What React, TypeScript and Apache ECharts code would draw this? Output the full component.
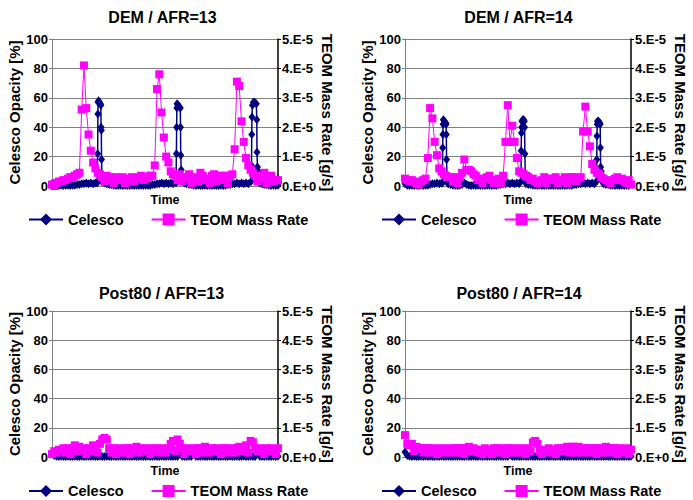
import React, { useEffect, useRef } from "react";
import * as echarts from "echarts";

// ---- data ----
const panelTitles = ["DEM / AFR=13", "DEM / AFR=14", "Post80 / AFR=13", "Post80 / AFR=14"];
const rightTicks = ["0.E+0", "1.E-5", "2.E-5", "3.E-5", "4.E-5", "5.E-5"];

const seq = (a: number, b: number) => Array.from({ length: b - a + 1 }, (_, k) => a + k);

// Celesco opacity [%] with sample times (time units)
const dem13CelescoTime = [
  ...seq(0, 19),
  19.8, 20, 20.1, 20.2, 20.4, 20.8, 21.2, 21.4, 21.5, 21.6, 21.7, 21.9,
  ...seq(23, 53),
  54.3, 54.5, 54.6, 54.7, 54.8, 55.2, 55.8, 56.2, 56.3, 56.4, 56.6, 56.9,
  ...seq(58, 86),
  87.2, 87.4, 87.5, 87.6, 87.8, 88.2, 88.8, 89.5, 89.7, 89.8, 90, 90.3, 90.6,
  ...seq(91, 99),
];
const dem13Celesco = [
  1.5, 0.5, 0.5, 0.3, 0.5, 0.3, 0.5, 0.5, 0.3, 0.5, 0.5, 1, 1, 1.5, 1.5, 2, 1.5, 2, 1.5, 2,
  2, 22, 49, 57, 58, 57, 56, 55, 40, 38, 18, 3,
  2, 1.5, 1, 1, 0.5, 0.3, 0.3, 0.5, 0.3, 0.5, 0.3, 0.3, 0.5, 0.3, 0.5, 0.3, 0.5, 0.3, 0.5, 0.5, 0.3, 1, 1, 1.5, 1.5, 2, 1.5, 2, 1.5, 2, 1.5,
  2, 22, 40, 53, 56, 55, 54, 53, 40, 21, 11, 3,
  2, 1.5, 1, 1, 0.5, 0.3, 0.5, 0.3, 0.3, 0.5, 0.3, 0.5, 0.3, 0.5, 0.3, 0.3, 0.5, 0.3, 0.5, 1, 1, 1.5, 1.5, 2, 1.5, 2, 1.5, 2, 1.5,
  3, 14, 35, 47, 55, 57, 57, 56, 45, 23, 13, 10, 3,
  2, 1.5, 1, 1, 0.5, 0.3, 0.5, 0.3, 0.5,
];

const dem14CelescoTime = [
  ...seq(0, 16),
  16.4, 16.5, 16.6, 16.7, 16.8, 17.3, 17.8, 18.0, 18.1, 18.2, 18.4, 18.6,
  ...seq(19, 50),
  50.8, 50.9, 51.0, 51.1, 51.2, 51.6, 52.0, 52.3, 52.4, 52.5, 52.7, 52.9,
  ...seq(53, 83),
  83.9, 84.0, 84.1, 84.2, 84.3, 84.8, 85.3, 85.5, 85.6, 85.7, 86.0, 86.3,
  ...seq(87, 99),
];
const dem14Celesco = [
  1.5, 0.5, 0.3, 0.5, 0.3, 0.5, 0.3, 0.5, 0.3, 0.5, 0.5, 1, 1.5, 1.5, 2, 1.5, 2,
  2, 26, 35, 42, 45, 44, 43, 42, 35, 18, 5, 2,
  1.5, 1, 0.5, 0.5, 0.3, 0.5, 1, 2, 1, 0.5, 0.3, 0.5, 0.3, 0.5, 0.3, 0.5, 0.3, 0.5, 0.5, 0.3, 0.5, 0.3, 1, 1, 1.5, 1.5, 2, 1.5, 2, 1.5, 2, 1.5,
  3, 24, 36, 40, 44, 45, 45, 44, 40, 22, 8, 3,
  1.5, 1, 1, 0.5, 0.5, 0.3, 0.5, 0.3, 0.3, 0.5, 0.3, 0.5, 0.3, 0.5, 0.3, 0.3, 0.5, 0.3, 0.5, 0.5, 0.3, 1, 1, 1.5, 1.5, 2, 1.5, 2, 1.5, 2, 1.5,
  3, 18, 34, 42, 44, 44, 43, 42, 26, 13, 10, 3,
  1.5, 1, 1, 0.5, 0.5, 0.3, 0.5, 0.3, 0.5, 0.3, 0.5, 0.3, 1.5,
];

// Post80 Celesco opacity [%], one sample per time unit
const post13Celesco = [
  2.5, 1, 0.5, 0.3, 0.5, 0.3, 0.3, 0.5, 0.3, 0.3, 0.5, 0.3, 0.3, 0.5, 0.3, 0.3, 0.5, 0.3, 0.5, 0.3,
  0.3, 0.5, 0.3, 0.3, 0.5, 0.3, 0.3, 0.5, 0.3, 0.3, 0.5, 0.3, 0.3, 0.5, 0.3, 0.3, 0.5, 0.3, 0.3, 0.5,
  0.3, 0.3, 0.5, 0.3, 0.3, 0.5, 0.3, 0.3, 0.5, 0.3, 0.3, 0.5, 0.3, 0.3, 0.5, 0.3, 3.5, 0.5, 0.3, 0.3,
  0.5, 0.3, 2.5, 0.5, 0.3, 0.3, 0.5, 0.3, 0.3, 0.5, 0.3, 0.3, 0.5, 0.3, 0.3, 0.5, 0.3, 0.3, 0.5, 0.3,
  0.3, 0.5, 0.3, 0.3, 0.5, 0.3, 0.3, 0.5, 0.3, 0.3, 3, 0.5, 0.3, 0.3, 0.5, 0.3, 0.3, 0.5, 0.3, 0.5,
];
const post14Celesco = [
  3.5, 1, 0.5, 0.3, 0.5, 0.3, 0.3, 0.5, 0.3, 0.5, 0.3, 0.5, 0.3, 0.3, 0.5, 0.3, 0.5, 0.3, 0.3, 0.5,
  0.3, 0.3, 0.5, 0.3, 0.5, 0.3, 0.3, 0.5, 0.3, 0.3, 0.5, 0.3, 0.3, 0.5, 0.3, 0.5, 0.3, 0.3, 0.5, 0.3,
  0.3, 0.5, 0.3, 0.3, 0.5, 0.3, 1.5, 0.3, 0.3, 0.5, 0.3, 0.3, 0.5, 0.3, 0.3, 0.5, 0.3, 0.3, 0.5, 0.3,
  0.3, 0.5, 0.3, 0.3, 0.5, 0.3, 0.3, 0.5, 0.3, 0.3, 0.5, 0.3, 0.3, 0.5, 0.3, 0.3, 0.5, 0.3, 0.3, 0.5,
  0.3, 0.3, 0.5, 0.3, 0.3, 0.5, 0.3, 0.3, 0.5, 0.3, 0.3, 0.5, 0.3, 0.3, 0.5, 0.3, 0.3, 0.5, 0.3, 0.5,
];

// TEOM mass rate, in units of 1e-5 g/s, one sample per time unit
const dem13Teom = [
  0.05, 0, 0.1, 0.15, 0.15, 0.2, 0.2, 0.25, 0.3, 0.3,
  0.35, 0.4, 0.45, 2.6, 4.1, 2.65, 1.75, 1.2, 0.8, 0.6,
  0.45, 0.4, 0.3, 0.15, 0.35, 0.2, 0.3, 0.1, 0.3, 0.2,
  0.25, 0.3, 0.1, 0.2, 0.25, 0.3, 0.15, 0.25, 0.3, 0.35,
  0.2, 0.25, 0.3, 0.35, 0.35, 0.7, 3.3, 3.8, 2.5, 1.65,
  1.0, 0.8, 0.5, 0.4, 0.35, 0.2, 0.4, 0.15, 0.25, 0.3,
  0.4, 0.1, 0.3, 0.25, 0.15, 0.45, 0.35, 0.2, 0.25, 0.1,
  0.35, 0.4, 0.15, 0.3, 0.35, 0.2, 0.35, 0.1, 0.35, 0.4,
  1.25, 3.55, 3.4, 2.2, 1.5, 0.95, 0.7, 0.55, 0.45, 0.35,
  0.15, 0.25, 0.35, 0.45, 0.1, 0.25, 0.35, 0.15, 0.2, 0.2,
];
const dem14Teom = [
  0.25, 0.2, 0.15, 0.2, 0.15, 0.1, 0.05, 0.15, 0.2, 0.25,
  0.95, 2.65, 2.3, 1.5, 1.05, 0.6, 0.5, 0.4, 0.35, 0.3,
  0.3, 0.15, 0.3, 0.1, 0.3, 0.45, 0.9, 0.55, 0.55, 0.5,
  0.4, 0.35, 0.2, 0.25, 0.1, 0.25, 0.3, 0.35, 0.2, 0.1,
  0.2, 0.25, 0.1, 0.35, 1.5, 2.75, 1.5, 2.05, 1.5, 0.95,
  0.5, 0.45, 0.4, 0.35, 0.3, 0.2, 0.25, 0.15, 0.1, 0.15,
  0.2, 0.3, 0.1, 0.25, 0.2, 0.25, 0.3, 0.1, 0.2, 0.15,
  0.3, 0.1, 0.25, 0.3, 0.3, 0.15, 0.25, 0.3, 1.85, 2.7,
  1.85, 1.35, 0.75, 0.55, 0.45, 0.4, 0.3, 0.25, 0.2, 0.15,
  0.1, 0.2, 0.25, 0.3, 0.2, 0.25, 0.15, 0.1, 0.2, 0.05,
];
const post13Teom = [
  0.1, 0.2, 0.15, 0.25, 0.2, 0.3, 0.15, 0.3, 0.1, 0.3,
  0.4, 0.2, 0.35, 0.25, 0.3, 0.1, 0.3, 0.2, 0.4, 0.3,
  0.15, 0.45, 0.6, 0.65, 0.6, 0.3, 0.15, 0.3, 0.1, 0.3,
  0.25, 0.15, 0.3, 0.3, 0.1, 0.3, 0.2, 0.35, 0.15, 0.3,
  0.2, 0.3, 0.25, 0.1, 0.3, 0.2, 0.3, 0.15, 0.3, 0.25,
  0.15, 0.3, 0.45, 0.55, 0.2, 0.6, 0.45, 0.3, 0.1, 0.3,
  0.2, 0.25, 0.3, 0.1, 0.3, 0.3, 0.15, 0.35, 0.3, 0.15,
  0.3, 0.2, 0.3, 0.2, 0.1, 0.3, 0.3, 0.15, 0.25, 0.3,
  0.15, 0.3, 0.35, 0.2, 0.3, 0.4, 0.15, 0.55, 0.5, 0.3,
  0.2, 0.3, 0.25, 0.1, 0.3, 0.2, 0.3, 0.25, 0.1, 0.3,
];
const post14Teom = [
  0.75, 0.45, 0.4, 0.45, 0.2, 0.35, 0.3, 0.3, 0.15, 0.3,
  0.3, 0.15, 0.3, 0.25, 0.1, 0.3, 0.2, 0.15, 0.3, 0.25,
  0.15, 0.3, 0.3, 0.15, 0.3, 0.3, 0.1, 0.3, 0.35, 0.2,
  0.3, 0.25, 0.15, 0.25, 0.1, 0.3, 0.2, 0.25, 0.1, 0.3,
  0.3, 0.15, 0.3, 0.25, 0.1, 0.3, 0.3, 0.15, 0.3, 0.2,
  0.15, 0.3, 0.25, 0.1, 0.3, 0.2, 0.5, 0.55, 0.45, 0.2,
  0.1, 0.25, 0.2, 0.3, 0.15, 0.25, 0.1, 0.3, 0.3, 0.2,
  0.3, 0.35, 0.15, 0.35, 0.35, 0.15, 0.35, 0.3, 0.15, 0.3,
  0.3, 0.15, 0.3, 0.3, 0.1, 0.3, 0.3, 0.15, 0.35, 0.3,
  0.15, 0.3, 0.3, 0.1, 0.3, 0.25, 0.15, 0.3, 0.1, 0.25,
];

const FONT = "'Liberation Sans', Arial, sans-serif";
const NAVY = "#000080";
const MAGENTA = "#FF00FF";

export default function App() {
  const ref = useRef<HTMLDivElement>(null);
  useEffect(() => {
    if (!ref.current) return;
    const chart = echarts.init(ref.current, null, { renderer: "svg" });

    const grids = [
      { left: 52, top: 39, width: 226, height: 147 },
      { left: 405, top: 39, width: 226, height: 147 },
      { left: 52, top: 311, width: 226, height: 146 },
      { left: 405, top: 311, width: 226, height: 146 },
    ];
    const celescoData = [
      dem13CelescoTime.map((t, k) => [t, dem13Celesco[k]]),
      dem14CelescoTime.map((t, k) => [t, dem14Celesco[k]]),
      post13Celesco.map((v, k) => [k, v]),
      post14Celesco.map((v, k) => [k, v]),
    ];
    const teomData = [dem13Teom, dem14Teom, post13Teom, post14Teom].map((arr) =>
      arr.map((v, k) => [k, v])
    );

    const xAxis: any[] = [];
    const yAxis: any[] = [];
    const series: any[] = [];
    const legend: any[] = [];
    const graphic: any[] = [];

    grids.forEach((g, i) => {
      xAxis.push({
        type: "value",
        gridIndex: i,
        min: 0,
        max: 99,
        axisLine: { show: true, lineStyle: { color: "#808080", width: 1 } },
        axisTick: { show: false },
        axisLabel: { show: false },
        splitLine: { show: false },
        name: "Time",
        nameLocation: "middle",
        nameGap: 7,
        nameTextStyle: { fontFamily: FONT, fontWeight: "bold", fontSize: 12.5, color: "#000", verticalAlign: "top" },
      });
      yAxis.push({
        type: "value",
        gridIndex: i,
        position: "left",
        min: 0,
        max: 100,
        interval: 20,
        axisLine: { show: true, lineStyle: { color: "#808080", width: 1 } },
        axisTick: { show: true, length: 3, lineStyle: { color: "#808080" } },
        axisLabel: { fontFamily: FONT, fontWeight: "bold", fontSize: 13, color: "#000", margin: 4 },
        splitLine: { show: true, lineStyle: { color: "#808080", width: 1 } },
        name: "Celesco Opacity [%]",
        nameLocation: "middle",
        nameRotate: 90,
        nameGap: 23,
        nameTextStyle: { fontFamily: FONT, fontWeight: "bold", fontSize: 15, color: "#000" },
      });
      yAxis.push({
        type: "value",
        gridIndex: i,
        position: "right",
        min: 0,
        max: 5,
        interval: 1,
        axisLine: { show: true, lineStyle: { color: "#000", width: 1.5 } },
        axisTick: { show: true, length: 3, lineStyle: { color: "#000" } },
        axisLabel: {
          fontFamily: FONT,
          fontWeight: "bold",
          fontSize: 13,
          color: "#000",
          margin: 4,
          formatter: (v: number) => rightTicks[Math.round(v)],
        },
        splitLine: { show: false },
        name: "TEOM Mass Rate [g/s]",
        nameLocation: "middle",
        nameRotate: -90,
        nameGap: 32,
        nameTextStyle: { fontFamily: FONT, fontWeight: "bold", fontSize: 15, color: "#000" },
      });
      series.push({
        type: "line",
        name: "Celesco",
        xAxisIndex: i,
        yAxisIndex: i * 2,
        data: celescoData[i],
        symbol: "diamond",
        symbolSize: [7, 9],
        showAllSymbol: true,
        color: NAVY,
        itemStyle: { color: NAVY },
        lineStyle: { color: NAVY, width: 1.5 },
        z: 2,
        silent: true,
      });
      series.push({
        type: "line",
        name: "TEOM Mass Rate",
        xAxisIndex: i,
        yAxisIndex: i * 2 + 1,
        data: teomData[i],
        symbol: "rect",
        symbolSize: 8,
        showAllSymbol: true,
        color: MAGENTA,
        itemStyle: { color: MAGENTA },
        lineStyle: { color: MAGENTA, width: 1 },
        z: 3,
        silent: true,
      });
      const top = i < 2;
      legend.push({
        left: i % 2 === 0 ? 28 : 381,
        top: top ? 212 : 483.5,
        padding: 0,
        orient: "horizontal",
        itemWidth: 34,
        itemHeight: 15,
        itemGap: 27,
        data: ["Celesco", "TEOM Mass Rate"],
        textStyle: { fontFamily: FONT, fontWeight: "bold", fontSize: 14.5, color: "#000" },
        selectedMode: false,
      });
      graphic.push({
        type: "text",
        x: [162.5, 518.5, 161.5, 519][i],
        y: top ? 17.5 : 293,
        style: {
          text: panelTitles[i],
          align: "center",
          verticalAlign: "middle",
          font: `bold 16px ${FONT}`,
          fill: "#000",
        },
      });
    });

    chart.setOption({
      animation: false,
      backgroundColor: "#fff",
      grid: grids,
      xAxis,
      yAxis,
      series,
      legend,
      graphic,
    });
    return () => chart.dispose();
  }, []);
  return (
    <div
      ref={ref}
      style={{ position: "absolute", left: 0, top: 0, width: 693, height: 500 }}
    />
  );
}
